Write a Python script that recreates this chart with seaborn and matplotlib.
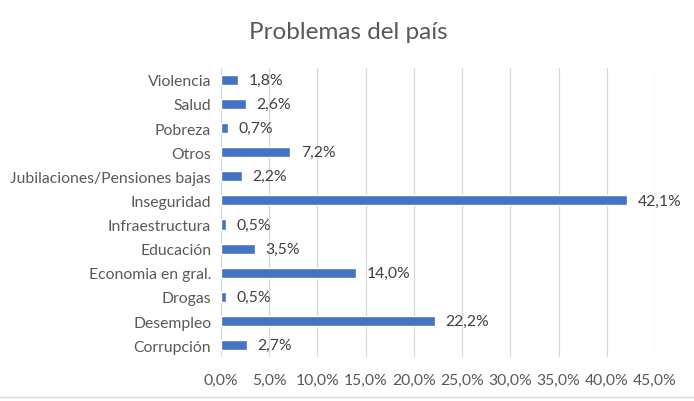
import matplotlib.pyplot as plt
import seaborn as sns
import pandas as pd

categorias = ["Violencia", "Salud", "Pobreza", "Otros", "Jubilaciones/Pensiones bajas",
              "Inseguridad", "Infraestructura", "Educación", "Economia en gral.",
              "Drogas", "Desempleo", "Corrupción"]
porcentajes = [1.8, 2.6, 0.7, 7.2, 2.2, 42.1, 0.5, 3.5, 14.0, 0.5, 22.2, 2.7]
ticks_x = [0, 5, 10, 15, 20, 25, 30, 35, 40, 45]

gris = "#595959"
azul = "#4472C4"

sns.set_style("white")
plt.rcParams['font.family'] = ['Lato', 'DejaVu Sans']

df = pd.DataFrame({"categoria": categorias, "pct": porcentajes})

fig = plt.figure(figsize=(6.94, 4.02), dpi=100)
ax = fig.add_axes([0.3184, 0.109, 0.6254, 0.72])

sns.barplot(data=df, x="pct", y="categoria", color=azul, width=0.42,
            saturation=1, ax=ax, orient="h")

for p, v in zip(ax.patches, porcentajes):
    ax.annotate(f"{v:.1f}%".replace(".", ","),
                (p.get_width(), p.get_y() + p.get_height() / 2),
                xytext=(7.5, 0), textcoords="offset points",
                va="center", ha="left", fontsize=11.3, color="#404040")

ax.set_xlim(0, 45)
ax.set_xticks(ticks_x)
ax.set_xticklabels([f"{t:.1f}%".replace(".", ",") for t in ticks_x])
ax.xaxis.grid(True, color="#D9D9D9", linewidth=0.9)
ax.set_axisbelow(True)
for s in ax.spines.values():
    s.set_visible(False)
ax.tick_params(axis="both", length=0, colors=gris, labelsize=11.3)
ax.tick_params(axis="x", pad=11)
ax.tick_params(axis="y", pad=7)
ax.set_xlabel("")
ax.set_ylabel("")

fig.suptitle("Problemas del país", x=0.502, y=0.945, fontsize=17.5, color=gris)
fig.add_artist(plt.Line2D([0, 1], [0.01, 0.01], color="#D9D9D9", linewidth=1))

fig.savefig("out.png", dpi=100)
